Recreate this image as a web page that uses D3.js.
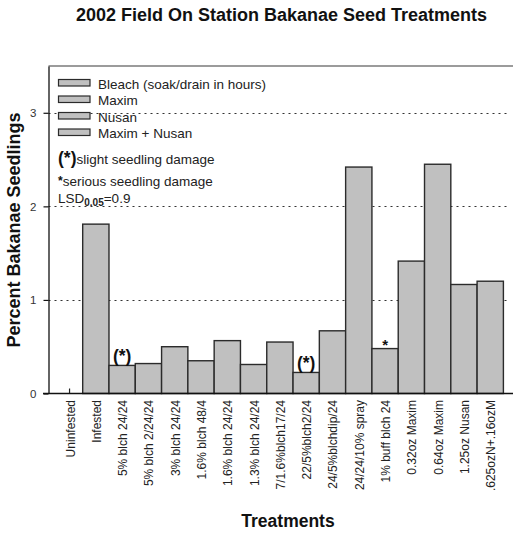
<!DOCTYPE html>
<html>
<head>
<meta charset="utf-8">
<script src="https://cdn.jsdelivr.net/npm/d3@7"></script>
<style>
  html, body { margin: 0; padding: 0; background: #fff; }
  svg { display: block; font-family: "Liberation Sans", Arial, sans-serif; }
</style>
</head>
<body>
<svg id="chart" width="513" height="533"></svg>
<script>
// ---- data ----
const categories = ["Uninfested", "Infested", "5% blch 24/24", "5% blch 2/24/24", "3% blch 24/24",
  "1.6% blch 48/4", "1.6% blch 24/24", "1.3% blch 24/24", "7/1.6%blch17/24", "22/5%blch2/24",
  "24/5%blchdip/24", "24/24/10% spray", "1% buff blch 24", "0.32oz Maxim", "0.64oz Maxim",
  "1.25oz Nusan", ".625ozN+.16ozM"];
const values = [0, 1.81, 0.30, 0.32, 0.50, 0.35, 0.565, 0.31, 0.55, 0.225, 0.67, 2.42, 0.48, 1.415, 2.45, 1.165, 1.20];
const damageMarks = ["", "", "(*)", "", "", "", "", "", "", "(*)", "", "", "*", "", "", "", ""];
const yTicks = [0, 1, 2, 3];
const gridValues = [1, 2, 3];
const legendLabels = ["Bleach (soak/drain in hours)", "Maxim", "Nusan", "Maxim + Nusan"];
const titleText = "2002 Field On Station Bakanae Seed Treatments";
const yTitle = "Percent Bakanae Seedlings";
const xTitle = "Treatments";

// ---- layout ----
const svg = d3.select("#chart");
const axisX = 48.5, baseY = 393.5, topY = 66, rightX = 513;
const x = d3.scaleBand().domain(categories).range([56.4, 503.4]).paddingInner(0).paddingOuter(0);
const y = d3.scaleLinear().domain([0, 3.5]).range([baseY, topY]);
const barFill = "#c0c0c0", barStroke = "#2b2b2b";

// title
svg.append("text").attr("x", 281.5).attr("y", 20.5).attr("text-anchor", "middle")
  .attr("font-size", 18).attr("font-weight", "bold").attr("fill", "#111").text(titleText);

// gridlines (dotted)
svg.append("g").selectAll("line").data(gridValues).join("line")
  .attr("x1", axisX).attr("x2", 510)
  .attr("y1", d => Math.round(y(d)) + 0.5).attr("y2", d => Math.round(y(d)) + 0.5)
  .attr("stroke", "#333").attr("stroke-width", 1.2).attr("stroke-dasharray", "2,4");

// top frame line
svg.append("line").attr("x1", axisX).attr("x2", rightX).attr("y1", topY).attr("y2", topY)
  .attr("stroke", "#7a7a7a").attr("stroke-width", 1.6);

// x axis ticks (inward), drawn under bars
const xAxis = d3.axisBottom(x).tickSizeInner(-5).tickSizeOuter(0).tickFormat("");
const gx = svg.append("g").attr("transform", `translate(0,${baseY})`).call(xAxis);
gx.select(".domain").remove();
gx.selectAll(".tick line").attr("stroke", "#222").attr("stroke-width", 1.2);

// bars
svg.append("g").selectAll("rect").data(categories).join("rect")
  .attr("x", d => x(d))
  .attr("y", (d, i) => y(values[i]))
  .attr("width", x.bandwidth())
  .attr("height", (d, i) => baseY - y(values[i]))
  .attr("fill", barFill)
  .attr("stroke", (d, i) => values[i] > 0 ? barStroke : "none")
  .attr("stroke-width", 1.4);

// damage marks above bars
svg.append("g").selectAll("text").data(categories.filter((d, i) => damageMarks[i] !== "")).join("text")
  .attr("x", d => x(d) + x.bandwidth() / 2)
  .attr("y", d => {
    const i = categories.indexOf(d);
    return damageMarks[i] === "(*)" ? y(values[i]) - 3.8 : y(values[i]) + 1;
  })
  .attr("text-anchor", "middle")
  .attr("font-weight", "bold")
  .attr("font-size", d => damageMarks[categories.indexOf(d)] === "(*)" ? 17.5 : 15)
  .attr("fill", "#111")
  .text(d => damageMarks[categories.indexOf(d)]);

// y axis
const yAxis = d3.axisLeft(y).tickValues(yTicks).tickFormat(d3.format("d")).tickSize(5).tickPadding(7).tickSizeOuter(0);
const gy = svg.append("g").attr("transform", `translate(${axisX},0)`).call(yAxis);
gy.select(".domain").attr("stroke", "#111").attr("stroke-width", 1.3);
gy.selectAll(".tick line").attr("stroke", "#111").attr("stroke-width", 1.2);
gy.selectAll(".tick text").attr("font-size", 11.5).attr("fill", "#333")
  .attr("font-family", "Liberation Sans, Arial, sans-serif");

// x baseline
svg.append("line").attr("x1", 43).attr("x2", rightX).attr("y1", baseY).attr("y2", baseY)
  .attr("stroke", "#111").attr("stroke-width", 1.3);

// x labels
svg.append("g").selectAll("text").data(categories).join("text")
  .attr("transform", d => `translate(${x(d) + x.bandwidth() / 2 + 5},400) rotate(-90)`)
  .attr("text-anchor", "end").attr("font-size", 12).attr("fill", "#222")
  .text(d => d);

// axis titles
svg.append("text").attr("transform", "translate(20,230) rotate(-90)")
  .attr("text-anchor", "middle").attr("font-size", 18).attr("font-weight", "bold")
  .attr("fill", "#111").text(yTitle);
svg.append("text").attr("x", 288).attr("y", 527).attr("text-anchor", "middle")
  .attr("font-size", 17.5).attr("font-weight", "bold").attr("fill", "#111").text(xTitle);

// legend
const leg = svg.append("g");
legendLabels.forEach((lab, i) => {
  const top = 79.5 + i * 16.5;
  leg.append("rect").attr("x", 58.5).attr("y", top).attr("width", 31.5).attr("height", 6.5)
    .attr("fill", barFill).attr("stroke", barStroke).attr("stroke-width", 1.2);
  leg.append("text").attr("x", 98).attr("y", top + 9).attr("font-size", 13.5)
    .attr("fill", "#222").text(lab);
});
const n1 = leg.append("text").attr("x", 58).attr("y", 164).attr("fill", "#222");
n1.append("tspan").attr("font-size", 17.5).attr("font-weight", "bold").attr("fill", "#111").text("(*)");
n1.append("tspan").attr("font-size", 13.5).text("slight seedling damage");
const n2 = leg.append("text").attr("x", 58).attr("y", 185.5).attr("fill", "#222");
n2.append("tspan").attr("font-size", 12).attr("font-weight", "bold").attr("dy", -1).attr("fill", "#111").text("*");
n2.append("tspan").attr("font-size", 13.5).attr("dy", 1).text("serious seedling damage");
const n3 = leg.append("text").attr("x", 58).attr("y", 203).attr("fill", "#222");
n3.append("tspan").attr("font-size", 13.5).text("LSD");
n3.append("tspan").attr("font-size", 10).attr("font-weight", "bold").attr("dy", 3).text("0.05");
n3.append("tspan").attr("font-size", 13.5).attr("dy", -3).text("=0.9");
</script>
</body>
</html>
